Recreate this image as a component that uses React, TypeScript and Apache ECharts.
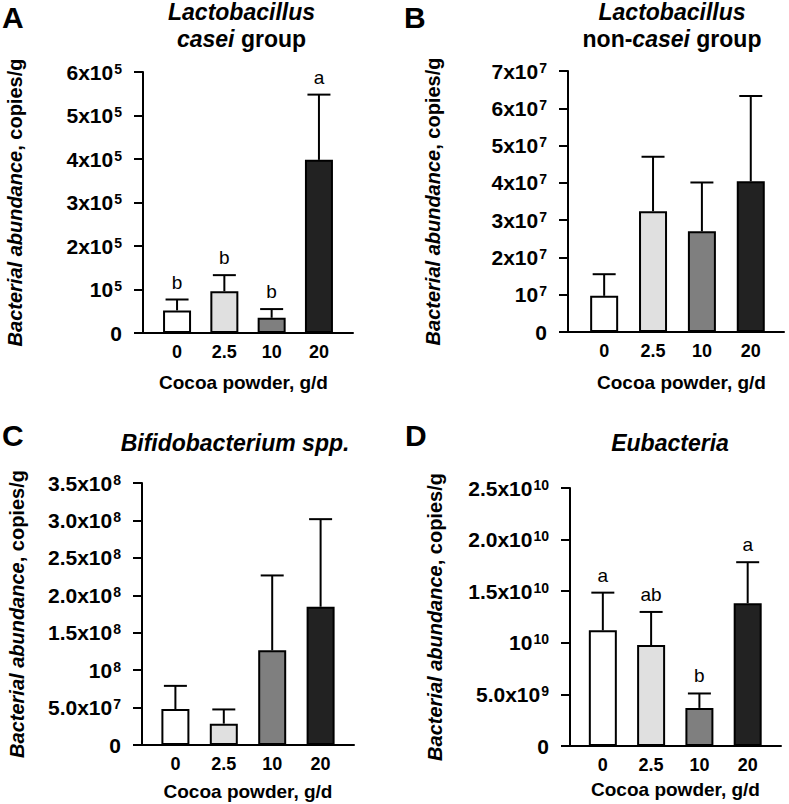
import React, { useEffect, useRef } from 'react';
import * as echarts from 'echarts';

// ---------- data ----------
const doses = ['0', '2.5', '10', '20'];
const barColors = ['#ffffff', '#e0e0e0', '#7f7f7f', '#222222'];

const caseiMean = [52000, 96000, 35000, 398000];
const caseiErr = [25000, 37000, 20000, 150000];
const caseiLetters = ['b', 'b', 'b', 'a'];
const caseiTicks = ['0', '10^5', '2x10^5', '3x10^5', '4x10^5', '5x10^5', '6x10^5'];

const nonCaseiMean = [0.97e7, 3.24e7, 2.7e7, 4.04e7];
const nonCaseiErr = [0.58e7, 1.46e7, 1.31e7, 2.29e7];
const nonCaseiLetters = ['', '', '', ''];
const nonCaseiTicks = ['0', '10^7', '2x10^7', '3x10^7', '4x10^7', '5x10^7', '6x10^7', '7x10^7'];

const bifidoMean = [4.8e7, 2.85e7, 1.265e8, 1.847e8];
const bifidoErr = [3.1e7, 1.9e7, 1.0e8, 1.17e8];
const bifidoLetters = ['', '', '', ''];
const bifidoTicks = ['0', '5.0x10^7', '10^8', '1.5x10^8', '2.0x10^8', '2.5x10^8', '3.0x10^8', '3.5x10^8'];

const eubacMean = [1.121e10, 0.978e10, 0.369e10, 1.383e10];
const eubacErr = [0.365e10, 0.321e10, 0.14e10, 0.398e10];
const eubacLetters = ['a', 'ab', 'b', 'a'];
const eubacTicks = ['0', '5.0x10^9', '10^10', '1.5x10^10', '2.0x10^10', '2.5x10^10'];

const xAxisTitle = 'Cocoa powder, g/d';
const yAxisTitleItalic = 'Bacterial abundance';
const yAxisTitleRest = ', copies/g';

// ---------- layout ----------
const FONT = "'Liberation Sans', Arial, Helvetica, sans-serif";

const panels = [
  {
    letter: 'A', mean: caseiMean, err: caseiErr, letters: caseiLetters, ticks: caseiTicks, step: 1e5,
    grid: { left: 143, top: 72, width: 210, height: 261 }, xmin: -0.72, xmax: 3.72,
    yGap: 118, xGap: 40, xPad: [0, 9, 0, 0],
    title: '{i|Lactobacillus}\n{i|casei}{b| group}', titleX: 241.5, titleY: 25, letterX: 2, letterY: 2,
  },
  {
    letter: 'B', mean: nonCaseiMean, err: nonCaseiErr, letters: nonCaseiLetters, ticks: nonCaseiTicks, step: 1e7,
    grid: { left: 568, top: 71, width: 216, height: 261 }, xmin: -0.74, xmax: 3.68,
    yGap: 125, xGap: 41, xPad: [0, 0, 0, 11],
    title: '{i|Lactobacillus}\n{b|non-}{i|casei}{b| group}', titleX: 672, titleY: 25, letterX: 404, letterY: 2,
  },
  {
    letter: 'C', mean: bifidoMean, err: bifidoErr, letters: bifidoLetters, ticks: bifidoTicks, step: 0.5e8,
    grid: { left: 142, top: 483, width: 212, height: 262 }, xmin: -0.69, xmax: 3.69,
    yGap: 115, xGap: 37, xPad: [0, 0, 0, 0],
    title: '{i|Bifidobacterium spp.}', titleX: 235, titleY: 443, letterX: 2, letterY: 420,
  },
  {
    letter: 'D', mean: eubacMean, err: eubacErr, letters: eubacLetters, ticks: eubacTicks, step: 0.5e10,
    grid: { left: 570, top: 488, width: 211, height: 258 }, xmin: -0.68, xmax: 3.69,
    yGap: 125, xGap: 34, xPad: [0, 0, 0, 0],
    title: '{i|Eubacteria}', titleX: 670, titleY: 443, letterX: 405, letterY: 420,
  },
];

const tickRich = {
  m: { fontSize: 21, fontWeight: 'bold', fontFamily: FONT, color: '#000', lineHeight: 21 },
  s: { fontSize: 14, fontWeight: 'bold', fontFamily: FONT, color: '#000', verticalAlign: 'top', lineHeight: 14, padding: [0, 0, 0, 1] },
};

const titleRich = {
  i: { fontSize: 23, fontWeight: 'bold', fontStyle: 'italic', fontFamily: FONT, fill: '#000', lineHeight: 27 },
  b: { fontSize: 23, fontWeight: 'bold', fontFamily: FONT, fill: '#000', lineHeight: 27 },
};

function tickFormatter(labels: string[], step: number) {
  return (v: number) => {
    const s = labels[Math.round(v / step)] ?? '';
    const parts = s.split('^');
    return parts.length > 1 ? `{m|${parts[0]}}{s|${parts[1]}}` : `{m|${parts[0]}}`;
  };
}

function buildOption() {
  const grids: any[] = [];
  const xAxes: any[] = [];
  const yAxes: any[] = [];
  const series: any[] = [];
  const graphics: any[] = [];

  panels.forEach((p, i) => {
    grids.push({ ...p.grid, containLabel: false });
    xAxes.push({
      type: 'value',
      gridIndex: i,
      min: p.xmin,
      max: p.xmax,
      splitLine: { show: false },
      axisTick: { show: false },
      axisLine: { show: true, onZero: false, lineStyle: { color: '#000', width: 2 } },
      axisLabel: {
        customValues: [0, 1, 2, 3],
        formatter: (v: number) => doses[Math.round(v)] ?? '',
        fontSize: 18,
        fontWeight: 'bold',
        fontFamily: FONT,
        color: '#000',
        margin: 10,
      },
      name: xAxisTitle,
      nameLocation: 'middle',
      nameGap: p.xGap,
      nameTextStyle: { fontSize: 19, fontWeight: 'bold', fontFamily: FONT, color: '#000', padding: p.xPad },
    });
    yAxes.push({
      type: 'value',
      gridIndex: i,
      min: 0,
      max: p.step * (p.ticks.length - 1),
      interval: p.step,
      splitLine: { show: false },
      axisLine: { show: true, onZero: false, lineStyle: { color: '#000', width: 2 } },
      axisTick: { show: true, length: 9, lineStyle: { color: '#000', width: 2 } },
      axisLabel: { margin: 21, formatter: tickFormatter(p.ticks, p.step), rich: tickRich },
      name: `{i|${yAxisTitleItalic}}{n|${yAxisTitleRest}}`,
      nameLocation: 'middle',
      nameGap: p.yGap,
      nameTextStyle: {
        rich: {
          i: { fontSize: 20, fontWeight: 'bold', fontStyle: 'italic', fontFamily: FONT, color: '#000' },
          n: { fontSize: 20, fontWeight: 'bold', fontFamily: FONT, color: '#000' },
        },
      },
    });
    series.push({
      type: 'bar',
      xAxisIndex: i,
      yAxisIndex: i,
      barWidth: 28,
      data: p.mean.map((m, k) => ({ value: [k, m], itemStyle: { color: barColors[k] } })),
      itemStyle: { borderColor: '#000', borderWidth: 2 },
    });
    const letters = p.letters;
    series.push({
      type: 'custom',
      xAxisIndex: i,
      yAxisIndex: i,
      data: p.mean.map((m, k) => [k, m, p.err[k]]),
      renderItem: (params: any, api: any) => {
        const x = api.value(0);
        const m = api.value(1);
        const e = api.value(2);
        const b = api.coord([x, m]);
        const t = api.coord([x, m + e]);
        const children: any[] = [
          { type: 'line', shape: { x1: b[0], y1: b[1], x2: t[0], y2: t[1] }, style: { stroke: '#000', lineWidth: 2 } },
          { type: 'line', shape: { x1: t[0] - 11.5, y1: t[1], x2: t[0] + 11.5, y2: t[1] }, style: { stroke: '#000', lineWidth: 2 } },
        ];
        const L = letters[params.dataIndex];
        if (L) {
          children.push({
            type: 'text',
            x: t[0],
            y: t[1] - 8,
            style: { text: L, fill: '#000', fontSize: 19, fontFamily: FONT, align: 'center', verticalAlign: 'bottom' },
          });
        }
        return { type: 'group', children };
      },
    });
    graphics.push({
      type: 'text',
      x: p.titleX,
      y: p.titleY,
      style: { text: p.title, rich: titleRich, align: 'center', verticalAlign: 'middle' },
    });
    graphics.push({
      type: 'text',
      x: p.letterX,
      y: p.letterY,
      style: { text: p.letter, fontSize: 30, fontWeight: 'bold', fontFamily: FONT, fill: '#000', align: 'left', verticalAlign: 'top' },
    });
  });

  return {
    animation: false,
    backgroundColor: '#fff',
    grid: grids,
    xAxis: xAxes,
    yAxis: yAxes,
    series,
    graphic: graphics,
  };
}

export default function App() {
  const ref = useRef<HTMLDivElement>(null);
  useEffect(() => {
    if (!ref.current) return;
    const chart = echarts.init(ref.current, undefined, { renderer: 'svg' });
    chart.setOption(buildOption() as any);
    return () => chart.dispose();
  }, []);
  return <div ref={ref} style={{ position: 'absolute', left: 0, top: 0, width: 789, height: 804 }} />;
}
